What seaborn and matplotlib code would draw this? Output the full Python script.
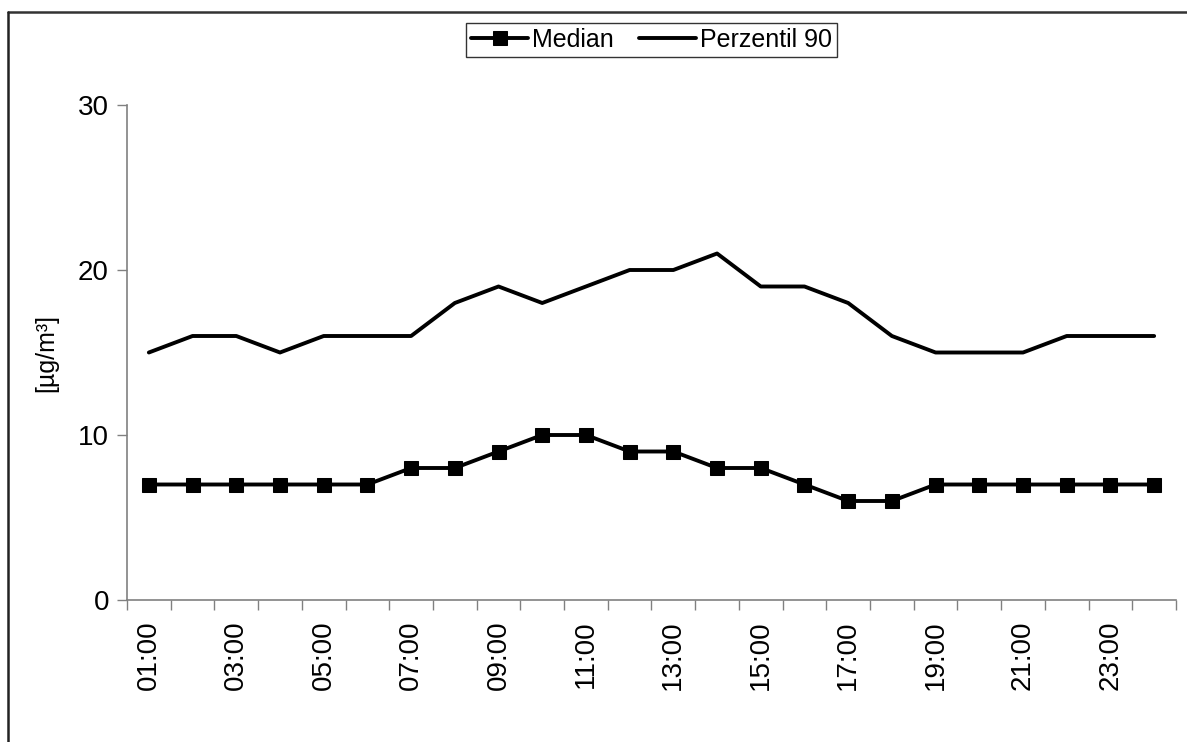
import matplotlib
matplotlib.use("Agg")
import matplotlib.pyplot as plt
import seaborn as sns
import pandas as pd
from matplotlib.lines import Line2D

hours = [f"{h:02d}:00" for h in range(1, 25)]
median = [7, 7, 7, 7, 7, 7, 8, 8, 9, 10, 10, 9, 9, 8, 8, 7, 6, 6, 7, 7, 7, 7, 7, 7]
p90 = [15, 16, 16, 15, 16, 16, 16, 18, 19, 18, 19, 20, 20, 21, 19, 19, 18, 16, 15, 15, 15, 16, 16, 16]

sns.set_theme(style="white")
plt.rcParams['font.family'] = ['Liberation Sans', 'DejaVu Sans']
plt.rcParams['text.color'] = 'black'
plt.rcParams['axes.labelcolor'] = 'black'
plt.rcParams['xtick.labelcolor'] = 'black'
plt.rcParams['ytick.labelcolor'] = 'black'

W, H = 1187, 742
fig = plt.figure(figsize=(W / 100, H / 100), dpi=100)
ax = fig.add_axes([127 / W, 1 - 600 / H, (1176 - 127) / W, (600 - 105) / H])

df = pd.DataFrame({"x": list(range(len(hours))), "Median": median, "Perzentil 90": p90})

sns.lineplot(data=df, x="x", y="Median", ax=ax, color="black", linewidth=2.8,
             marker="s", markersize=10, markeredgecolor="black", label="Median")
sns.lineplot(data=df, x="x", y="Perzentil 90", ax=ax, color="black", linewidth=2.8,
             label="Perzentil 90")

ax.set_xlim(-0.5, len(hours) - 0.5)
ax.set_ylim(0, 30)
ax.set_yticks([0, 10, 20, 30])
ax.set_yticklabels(["0", "10", "20", "30"], fontsize=20)

ax.set_xticks([i - 0.5 for i in range(len(hours) + 1)])
ax.set_xticklabels([])
ax.set_xticks(list(range(0, len(hours), 2)), minor=True)
ax.set_xticklabels([hours[i] for i in range(0, len(hours), 2)], minor=True,
                   rotation=90, fontsize=20)
ax.tick_params(axis="x", which="minor", length=0, pad=15, labelcolor="black")
ax.tick_params(axis="x", which="major", length=7, width=1, color="#808080", direction="out", bottom=True)
ax.tick_params(axis="y", length=7, width=1, color="#808080", direction="out", left=True, pad=6,
               labelcolor="black")

ax.set_xlabel("")
ax.set_ylabel("[µg/m³]", fontsize=18, labelpad=14, color="black")

for s in ["top", "right"]:
    ax.spines[s].set_visible(False)
for s in ["left", "bottom"]:
    ax.spines[s].set_color("#808080")
    ax.spines[s].set_linewidth(1.2)

if ax.legend_:
    ax.legend_.remove()
handles, labels = ax.get_legend_handles_labels()
leg = fig.legend(handles, labels, loc="center", bbox_to_anchor=(651.5 / W, 1 - 40 / H),
                 ncol=2, fontsize=18, frameon=True, fancybox=False, edgecolor="black",
                 handlelength=2.3, handletextpad=0.15, columnspacing=1.0,
                 borderpad=0.2, borderaxespad=0)
leg.get_frame().set_linewidth(1.0)
for t in leg.get_texts():
    t.set_color("black")

# figure border (top and left visible)
fig.add_artist(Line2D([8 / W, 1.0], [1 - 12 / H, 1 - 12 / H], transform=fig.transFigure,
                      color="#333333", linewidth=1.8))
fig.add_artist(Line2D([8 / W, 8 / W], [1 - 12 / H, 0], transform=fig.transFigure,
                      color="#222222", linewidth=1.8))

fig.savefig("out.png", dpi=100)
